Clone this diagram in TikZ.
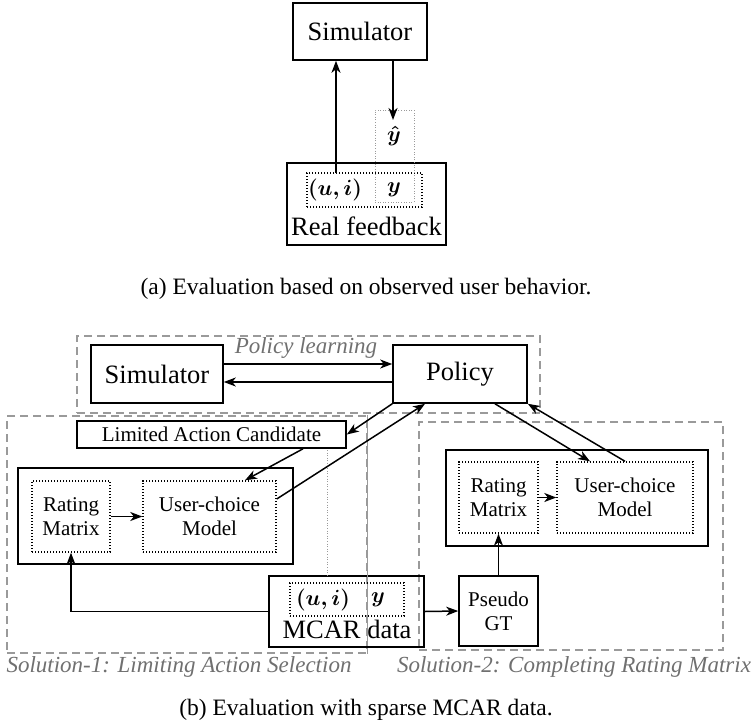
\RequirePackage{fix-cm}
\documentclass[tikz,border=0pt]{standalone}
\usepackage{amsmath}
\usepackage{bm}
\usepackage[no-math]{fontspec}
\setmainfont{Liberation Serif}
\usetikzlibrary{arrows.meta}
\definecolor{lg}{HTML}{9A9A9A}
\definecolor{tg}{HTML}{707070}
\begin{document}
\begin{tikzpicture}[x=1pt,y=-1pt,
  box/.style={draw, line width=1.6pt, inner sep=0pt},
  dotbox/.style={draw, line width=1.4pt, dash pattern=on 1.4pt off 1.6pt, inner sep=0pt},
  graydot/.style={draw=lg, line width=1pt, dash pattern=on 1pt off 1.6pt},
  dashbox/.style={draw=lg, line width=1.3pt, dash pattern=on 8pt off 5pt, inner sep=0pt},
  arr/.style={line width=1.5pt, -{Stealth[length=12pt,width=9pt,inset=3.5pt]}},
  bigtxt/.style={font=\fontsize{26.5}{30}\selectfont, inner sep=0pt},
  midtxt/.style={font=\fontsize{21}{24}\selectfont, align=center, inner sep=0pt},
  mth/.style={font=\fontsize{22}{26}\selectfont, inner sep=0pt},
  labtxt/.style={font=\fontsize{23}{26}\selectfont\itshape, text=tg, inner sep=0pt},
  captxt/.style={font=\fontsize{23.5}{27}\selectfont, inner sep=0pt}]
\useasboundingbox (0,0) rectangle (754,725);

% ---------- (a) ----------
\node[box, bigtxt, minimum width=134pt, minimum height=57pt] (simA) at (360,31.5) {Simulator};
\node[box, minimum width=159pt, minimum height=82pt] (rf) at (366.5,204) {};
\node[bigtxt] (rftxt) at (366.5,226) {Real feedback};
\node[dotbox, minimum width=115pt, minimum height=34pt] (inA) at (364.5,190) {};
\node[graydot, inner sep=0pt, minimum width=39pt, minimum height=92pt] (col) at (394.5,156) {};
\node[mth] (uiA) at (335,190) {$\bm{(u,i)}$};
\node[mth] (yA) at (394,190) {$\bm{y}$};
\node[mth] (yh) at (394,136) {$\bm{\hat{y}}$};
\coordinate (ua) at (336,173);
\coordinate (yhtip) at (393,120);
\draw[arr] (ua) -- (ua |- simA.south);
\draw[arr] (simA.south -| yhtip) -- (yhtip);
\node[captxt] (capA) at (366,289) {(a) Evaluation based on observed user behavior.};

% ---------- (b) ----------
\node[dashbox, minimum width=463pt, minimum height=77pt] (toparea) at (308.5,374.5) {};
\node[dashbox, minimum width=360pt, minimum height=237pt] (sol1) at (187,534.5) {};
\node[dashbox, minimum width=304pt, minimum height=228pt] (sol2) at (571,536) {};

\node[box, bigtxt, fill=white, minimum width=132pt, minimum height=58pt] (simB) at (157,374) {Simulator};
\node[box, bigtxt, fill=white, minimum width=134pt, minimum height=58pt] (pol) at (460,374) {Policy};
\node[labtxt] (pl) at (306,348) {Policy learning};
\draw[arr] ([yshift=10pt]simB.east) -- ([yshift=10pt]pol.west);
\draw[arr] ([yshift=-8pt]pol.west) -- ([yshift=-8pt]simB.east);

\node[box, midtxt, fill=white, minimum width=269pt, minimum height=27pt] (lac) at (211.5,434.5) {Limited Action Candidate};

\node[box, fill=white, minimum width=275pt, minimum height=96pt] (m1) at (155.5,516) {};
\node[dotbox, midtxt, minimum width=78pt, minimum height=71pt] (rm1) at (71,516.5) {Rating\\Matrix};
\node[dotbox, midtxt, minimum width=133pt, minimum height=71pt] (uc1) at (209.5,516.5) {User-choice\\Model};

\node[box, fill=white, minimum width=262pt, minimum height=96pt] (m2) at (577,498) {};
\node[dotbox, midtxt, minimum width=79pt, minimum height=71pt] (rm2) at (498.5,497.5) {Rating\\Matrix};
\node[dotbox, midtxt, minimum width=136pt, minimum height=71pt] (uc2) at (625,497.5) {User-choice\\Model};

\node[box, midtxt, fill=white, minimum width=79pt, minimum height=70pt] (pgt) at (498.5,611) {Pseudo\\GT};

\node[box, minimum width=155pt, minimum height=71pt] (mcar) at (346.5,611.5) {};
\draw[dashbox] (sol1.north east) -- (sol1.south east);
\node[dotbox, minimum width=114pt, minimum height=33pt] (inB) at (347,599.5) {};
\node[mth] (uiB) at (323,600) {$\bm{(u,i)}$};
\node[mth] (yB) at (378,600) {$\bm{y}$};
\node[bigtxt] (mcartxt) at (347,629) {MCAR data};

\coordinate (gd) at (327,450);
\draw[graydot] (gd) -- (gd |- mcar.north);

\draw[arr] ([xshift=91.5pt]lac.south) -- ([xshift=35.5pt]uc1.north);
\draw[arr] ([yshift=17.5pt]uc1.east) -- ([xshift=-35pt]pol.south);
\draw[arr] (pol.south west) -- (lac.east);
\draw[arr] ([xshift=35pt]pol.south) -- ([xshift=-35pt]uc2.north);
\draw[arr] (uc2.north) -- (pol.south east);
\draw[arr] (rm1.east) -- (uc1.west);
\draw[arr] (rm2.east) -- (uc2.west);
\draw[arr] (pgt.north) -- (rm2.south);
\draw[arr] (mcar.west) -| (rm1.south);
\draw[arr] (mcar.east) -- (pgt.west);

\node[labtxt] (s1) at (179,667) {Solution-1: Limiting Action Selection};
\node[labtxt] (s2) at (574,667) {Solution-2: Completing Rating Matrix};
\node[captxt] (capB) at (366,710) {(b) Evaluation with sparse MCAR data.};
\end{tikzpicture}
\end{document}
